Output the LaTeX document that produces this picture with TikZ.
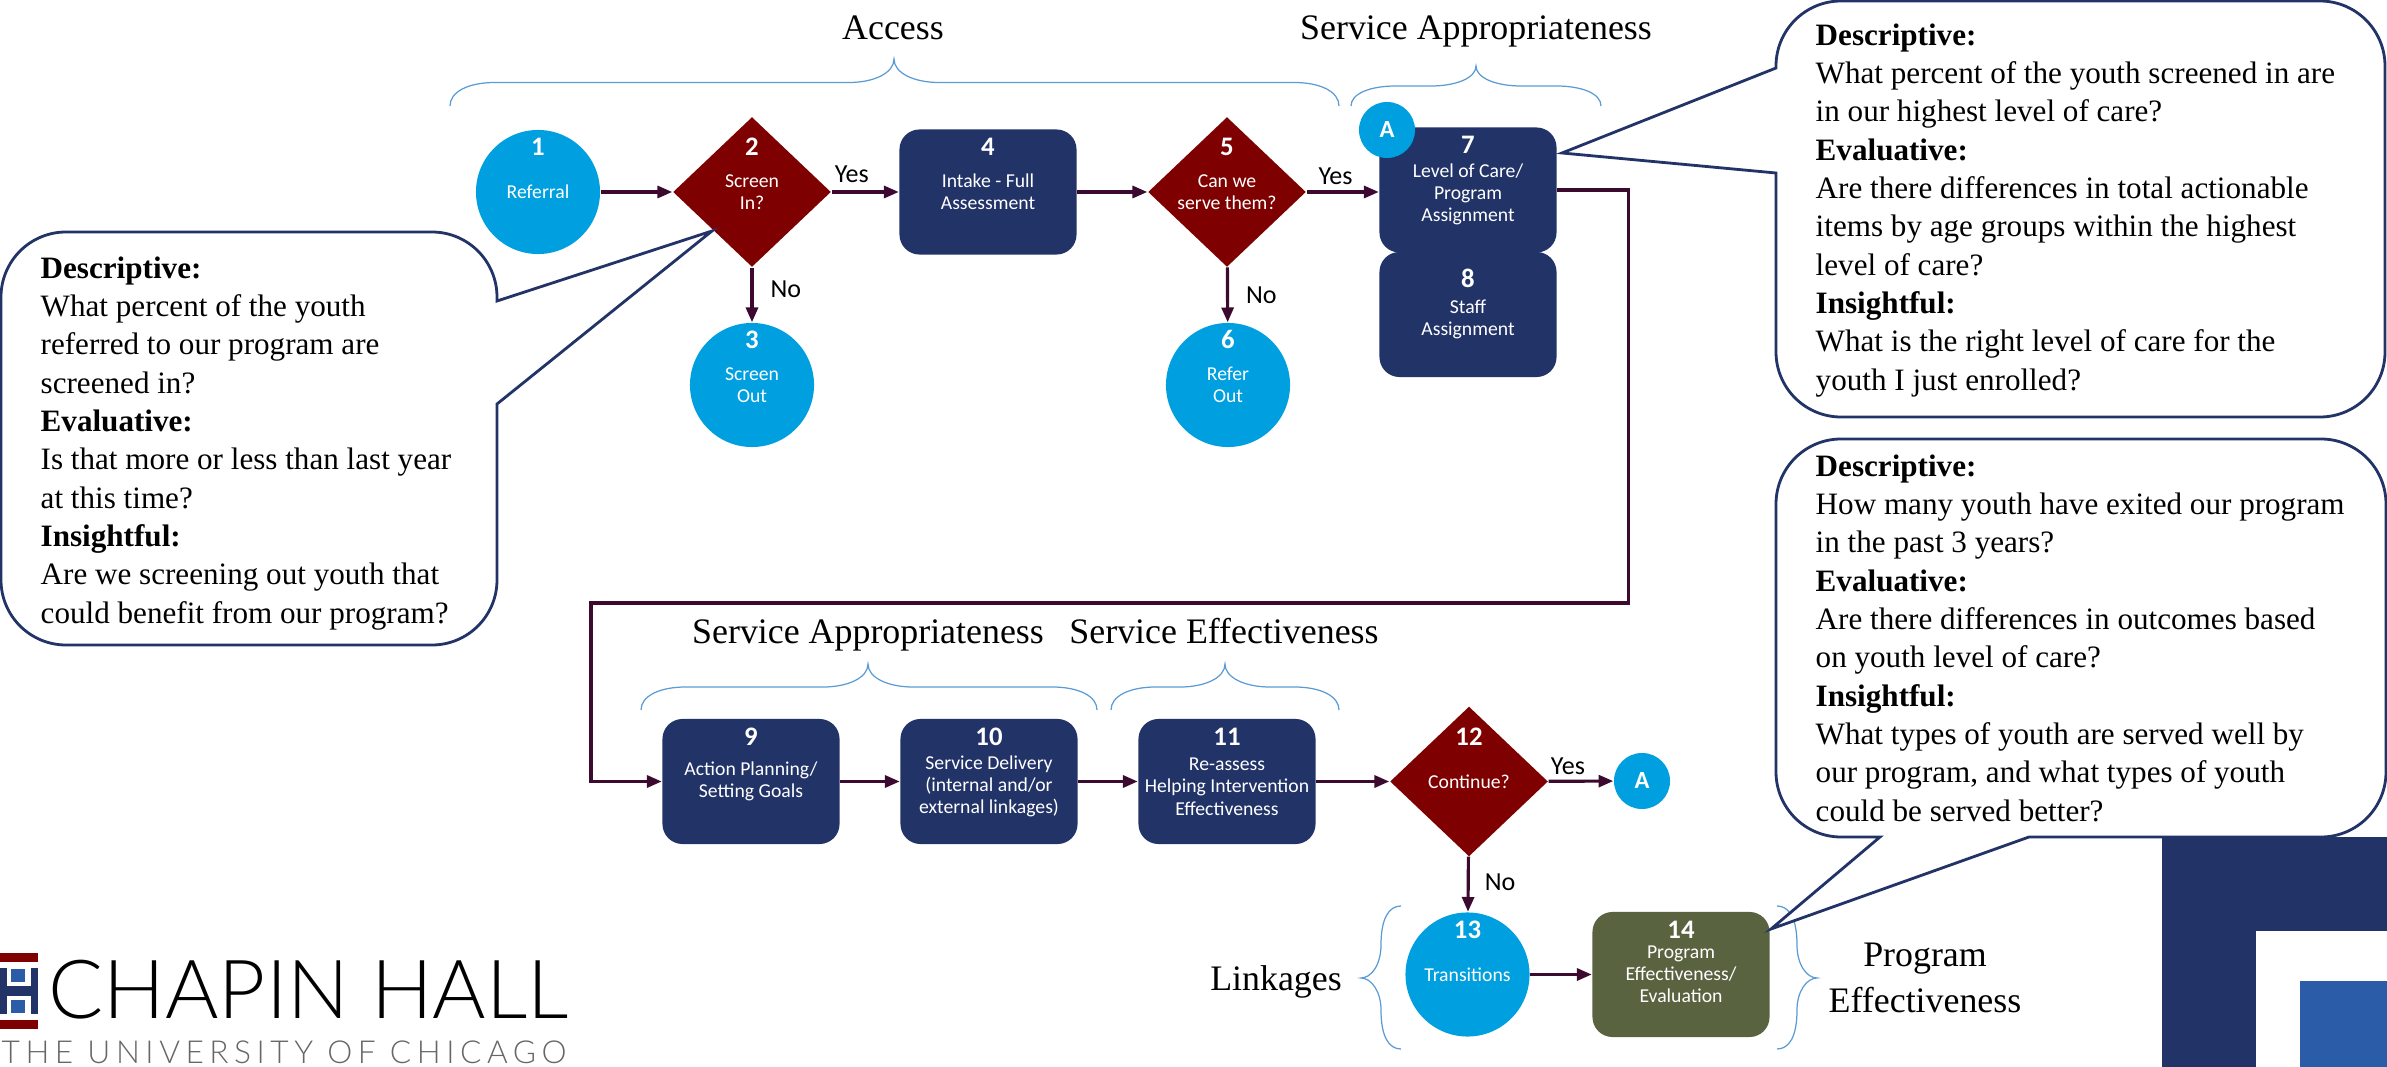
\documentclass[tikz,border=0pt]{standalone}
\usepackage{fontspec}
\setmainfont{Liberation Serif}
\newfontfamily\flowfont{Carlito}
\newfontfamily\logofont[UprightFont=* Light]{Lato}
\usetikzlibrary{shapes.geometric, arrows.meta}
\tikzset{>={Triangle[length=4.2pt, width=3.4pt]}}
\definecolor{navyblue}{HTML}{223368}
\definecolor{skyblue}{HTML}{009FDF}
\definecolor{darkred}{HTML}{7F0000}
\definecolor{olivebox}{HTML}{5A6340}
\definecolor{flowline}{HTML}{3C0A2E}
\definecolor{bracecol}{HTML}{5B9BD5}
\definecolor{cornerblue}{HTML}{2A5CA8}
\tikzset{
    nodetext/.style={text=white, align=center, inner sep=0pt, font=\flowfont\fontsize{5.6}{6.3}\selectfont},
    numlab/.style={text=white, inner sep=0pt, yshift=0.45cm, font=\flowfont\bfseries\fontsize{7.6}{8}\selectfont},
    num/.style={label={[numlab]center:#1}},
    roundnode/.style={nodetext, circle, fill=skyblue, minimum size=1.24cm},
    choice/.style={nodetext, diamond, fill=darkred, minimum width=1.58cm, minimum height=1.5cm},
    task/.style={nodetext, rectangle, rounded corners=0.2cm, fill=navyblue, minimum width=1.77cm, minimum height=1.25cm},
    badge/.style={circle, fill=skyblue, text=white, inner sep=0pt, minimum size=0.56cm, font=\flowfont\bfseries\fontsize{7}{8}\selectfont},
    flow/.style={->, color=flowline, line width=0.9pt},
    yesno/.style={text=black, inner sep=0.1cm, font=\flowfont\fontsize{7.4}{8}\selectfont},
    heading/.style={anchor=base, inner sep=0pt, align=center, font=\fontsize{10.2}{12.8}\selectfont},
    bubble/.style={color=navyblue, fill=white, line width=0.8pt},
    bubbletext/.style={anchor=north west, inner sep=0pt, align=left, text=black, font=\fontsize{8.85}{10.9}\selectfont},
    bracket/.style={color=bracecol, line width=0.35pt}
}
\newcommand{\lift}{\rule{0pt}{6.5pt}}
\newcommand{\topbrace}[5]{
    \draw[bracket] (#1,#4) .. controls (#1,{#4-0.6*#5}) and ({#1+18},{#4-#5}) .. ({#1+45},{#4-#5})
        -- ({#2-45},{#4-#5}) .. controls ({#2-20},{#4-#5}) and (#2,{#4-1.4*#5}) .. (#2,{#4-2*#5})
        .. controls (#2,{#4-1.4*#5}) and ({#2+20},{#4-#5}) .. ({#2+45},{#4-#5})
        -- ({#3-45},{#4-#5}) .. controls ({#3-18},{#4-#5}) and (#3,{#4-0.6*#5}) .. (#3,#4);
}
\newcommand{\sidebrace}[2]{
    \draw[bracket] (#1,906) .. controls ({#1+0.6*#2},906) and ({#1+#2},918) .. ({#1+#2},945)
        .. controls ({#1+#2},965) and ({#1+1.5*#2},978) .. ({#1+2*#2},978)
        .. controls ({#1+1.5*#2},978) and ({#1+#2},991) .. ({#1+#2},1010)
        .. controls ({#1+#2},1037) and ({#1+0.6*#2},1049) .. (#1,1049);
}
\begin{document}
\begin{tikzpicture}[x=0.01cm, y=-0.01cm]
    \useasboundingbox (0,0) rectangle (2387,1067);

    \fill[navyblue] (2162,837) rectangle (2387,931);
    \fill[navyblue] (2162,931) rectangle (2256,1067);
    \fill[cornerblue] (2300,981) rectangle (2387,1067);

    \fill[darkred] (0,953) rectangle (38,962);
    \fill[darkred] (0,1020) rectangle (38,1029);
    \fill[navyblue] (0,968) rectangle (38,1014);
    \fill[white] (7,968) rectangle (31,986);
    \fill[white] (7,996) rectangle (31,1014);
    \fill[cornerblue] (11,969) rectangle (25,982);
    \fill[cornerblue] (11,1000) rectangle (25,1013);
    \node[anchor=base west, inner sep=0pt, font=\logofont\fontsize{23.2}{24}\selectfont] (logoname) at (48,1018) {CHAPIN HALL};
    \node[anchor=base west, inner sep=0pt, text=black!60, font=\logofont\addfontfeature{LetterSpace=17.5}\fontsize{9}{10}\selectfont] (logosub) at (1,1063) {THE UNIVERSITY OF CHICAGO};

    \node[roundnode, num=1] (n1) at (538,192) {Referral};
    \node[choice, num=2] (n2) at (752,192) {Screen\\In?};
    \node[roundnode, num=3] (n3) at (752,385) {Screen\\Out};
    \node[task, num=4] (n4) at (988,192) {Intake - Full\\Assessment};
    \node[choice, num=5] (n5) at (1227,192) {Can we\\serve them?};
    \node[roundnode, num=6] (n6) at (1228,385) {Refer\\Out};
    \node[task, label={[numlab]center:7}] (n7) at (1468,190) {\lift Level of Care/\\Program\\Assignment};
    \node[task, label={[numlab, yshift=-0.09cm]center:8}] (n8) at (1468,314.5) {\lift Staff\\Assignment};
    \node[task, num=9] (n9) at (751,781.5) {Action Planning/\\Setting Goals};
    \node[task, num=10] (n10) at (989,781.5) {\lift Service Delivery\\(internal and/or\\external linkages)};
    \node[task, num=11] (n11) at (1227,781.5) {\lift Re-assess\\Helping Intervention\\Effectiveness};
    \node[choice, num=12] (n12) at (1469,781.5) {Continue?};
    \node[roundnode, num=13] (n13) at (1467.5,974.5) {Transitions};
    \node[task, fill=olivebox, num=14] (n14) at (1681,974.5) {Program\\Effectiveness/\\Evaluation};
    \node[badge] (a1) at (1387,130) {A};
    \node[badge] (a2) at (1642,781) {A};

    \coordinate (turn1) at (1628.5,603);
    \coordinate (turn2) at (591,603);

    \draw[flow] (n1) -- (n2);
    \draw[flow] (n2) -- node[yesno, above, pos=0.3, yshift=-0.02cm] (yes1) {Yes} (n4);
    \draw[flow] (n2) -- node[yesno, right, pos=0.39, xshift=0.07cm] (no1) {No} (n3);
    \draw[flow] (n4) -- (n5);
    \draw[flow] (n5.east) -- node[yesno, above, pos=0.4, yshift=-0.04cm] (yes2) {Yes} (n5.east -| n7.west);
    \draw[flow] (n5) -- node[yesno, right, pos=0.5, xshift=0.07cm] (no2) {No} (n6);
    \draw[flow] (n7.east) -| (turn1) -- (turn2) |- (n9.west);
    \draw[flow] (n9) -- (n10);
    \draw[flow] (n10) -- (n11);
    \draw[flow] (n11) -- (n12);
    \draw[flow] (n12) -- node[yesno, above, pos=0.3, yshift=-0.05cm] (yes3) {Yes} (a2);
    \draw[flow] (n12) -- node[yesno, right, pos=0.47, xshift=0.05cm] (no3) {No} (n13);
    \draw[flow] (n13) -- (n14);

    \topbrace{450}{894}{1339}{106}{23.5}
    \topbrace{1351}{1476}{1601}{106}{20}
    \topbrace{641}{868}{1097}{710}{23}
    \topbrace{1111}{1225}{1339}{710}{23}
    \sidebrace{1401}{-20}
    \sidebrace{1777}{20}

    \node[heading] (access) at (893,40) {Access};
    \node[heading] (approp1) at (1476,40) {Service Appropriateness};
    \node[heading] (approp2) at (868,643) {Service Appropriateness};
    \node[heading] (effect) at (1224,643) {Service Effectiveness};
    \node[heading] (linkages) at (1276,990) {Linkages};
    \node[heading] (progeff) at (1925,1012) {Program\\Effectiveness};

    \draw[bubble] (497,301) -- (712,231) -- (497,404) [rounded corners=0.65cm] -- (497,645) -- (1,645) -- (1,232) -- (497,232) [sharp corners] -- cycle;
    \node[bubbletext] (leftq) at (40,256) {\textbf{Descriptive:}\\What percent of the youth\\referred to our program are\\screened in?\\\textbf{Evaluative:}\\Is that more or less than last year\\at this time?\\\textbf{Insightful:}\\Are we screening out youth that\\could benefit from our program?};

    \draw[bubble] (1776,68) -- (1562,153) -- (1776,173) [rounded corners=0.65cm] -- (1776,417) -- (2385,417) -- (2385,1) -- (1776,1) [sharp corners] -- cycle;
    \node[bubbletext] (topq) at (1815,23) {\textbf{Descriptive:}\\What percent of the youth screened in are\\in our highest level of care?\\\textbf{Evaluative:}\\Are there differences in total actionable\\items by age groups within the highest\\level of care?\\\textbf{Insightful:}\\What is the right level of care for the\\youth I just enrolled?};

    \draw[bubble] (1880,837) -- (1771,929) -- (2029,837) [rounded corners=0.65cm] -- (2386,837) -- (2386,439) -- (1776,439) -- (1776,837) [sharp corners] -- cycle;
    \node[bubbletext] (lowq) at (1815,454) {\textbf{Descriptive:}\\How many youth have exited our program\\in the past 3 years?\\\textbf{Evaluative:}\\Are there differences in outcomes based\\on youth level of care?\\\textbf{Insightful:}\\What types of youth are served well by\\our program, and what types of youth\\could be served better?};
\end{tikzpicture}
\end{document}
